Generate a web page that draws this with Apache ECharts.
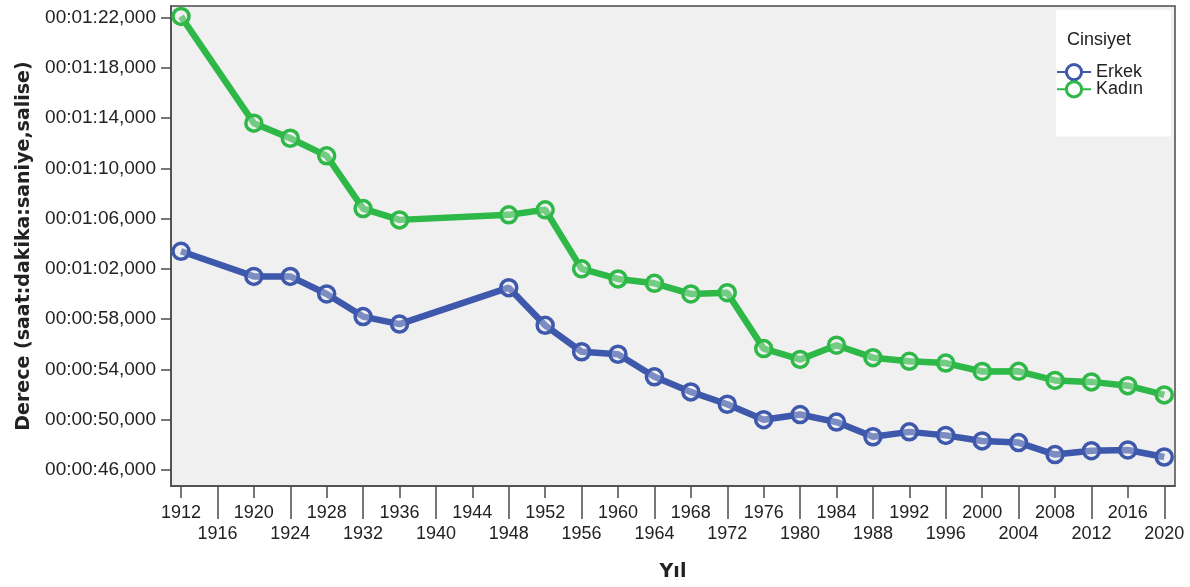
<!DOCTYPE html>
<html>
<head>
<meta charset="utf-8">
<script src="https://cdn.jsdelivr.net/npm/echarts@6/dist/echarts.min.js"></script>
<style>
html,body{margin:0;padding:0;background:#fff;}
#chart{width:1190px;height:587px;}
</style>
</head>
<body>
<div id="chart"></div>
<script>
// ---- data ----
const years = [1912,1920,1924,1928,1932,1936,1948,1952,1956,1960,1964,1968,1972,1976,1980,1984,1988,1992,1996,2000,2004,2008,2012,2016,2020];
const erkek = [63.4,61.4,61.4,60.0,58.2,57.6,60.5,57.5,55.4,55.2,53.4,52.2,51.22,49.99,50.40,49.80,48.63,49.02,48.74,48.30,48.17,47.21,47.52,47.58,47.02];
const kadin = [82.1,73.6,72.4,71.0,66.8,65.9,66.3,66.7,62.0,61.2,60.85,60.0,60.1,55.65,54.79,55.92,54.93,54.64,54.50,53.83,53.84,53.12,53.00,52.70,51.96];
const xTicksRow1 = [1912,1920,1928,1936,1944,1952,1960,1968,1976,1984,1992,2000,2008,2016];
const xTicksRow2 = [1916,1924,1932,1940,1948,1956,1964,1972,1980,1988,1996,2004,2012,2020];
const yTicks = [46,50,54,58,62,66,70,74,78,82];
const seriesNames = ['Erkek','Kadın'];
const legendTitle = 'Cinsiyet';
const xTitle = 'Yıl';
const yTitle = 'Derece (saat:dakika:saniye,salise)';

const colors = ['#3E58AC','#2EB848'];
const font = 'Liberation Sans, Arial, sans-serif';
const boldFont = 'DejaVu Sans, sans-serif';
const textColor = '#222';
const frameColor = '#4a4a4a';

function fmtTime(v){
  const total = Math.round(v);
  const m = Math.floor(total/60), s = total%60;
  const p = n => (n<10?'0':'')+n;
  return '00:' + p(m) + ':' + p(s) + ',000';
}

const chart = echarts.init(document.getElementById('chart'), null, {renderer:'canvas'});

function mkSeries(name, vals, color){
  return {
    name: name,
    type: 'line',
    xAxisIndex: 0,
    data: years.map((y,i)=>[y, vals[i]]),
    symbol: 'circle',
    symbolSize: 16,
    lineStyle: {color: color, width: 6.5},
    itemStyle: {color: 'rgba(240,240,240,0.35)', borderColor: color, borderWidth: 3.5},
    emphasis: {disabled: true},
    animation: false
  };
}

const xBase = {
  type: 'value',
  min: 1910.9,
  max: 2021.18,
  position: 'bottom',
  splitLine: {show:false},
  axisLine: {show:true, lineStyle:{color: frameColor, width: 1.5}},
};

chart.setOption({
  animation: false,
  grid: {
    left: 171, top: 6, right: 15, bottom: 99,
    show: true, backgroundColor: '#f0f0f0', borderColor: frameColor, borderWidth: 1.5
  },
  title: {
    text: legendTitle, left: 1067, top: 31, z: 10, padding: 0,
    textStyle: {fontFamily: font, fontSize: 18, fontWeight: 'normal', color: textColor}
  },
  legend: {
    data: seriesNames,
    orient: 'vertical',
    left: 1056, top: 10,
    backgroundColor: '#ffffff',
    padding: [53, 28, 38, 0],
    itemGap: -1,
    itemWidth: 34, itemHeight: 19,
    lineStyle: {width: 2},
    itemStyle: {borderWidth: 3, color: '#ffffff'},
    textStyle: {fontFamily: font, fontSize: 18, color: textColor, lineHeight: 18}
  },
  xAxis: [
    Object.assign({}, xBase, {
      name: xTitle,
      nameLocation: 'middle',
      nameGap: 77,
      nameTextStyle: {fontFamily: boldFont, fontSize: 19, fontWeight: 'bold', color: textColor},
      axisTick: {show:true, length: 12, customValues: xTicksRow1, lineStyle:{color: frameColor, width: 1.5}},
      axisLabel: {show:true, margin: 18, customValues: xTicksRow1, fontFamily: font, fontSize: 18, color: textColor, formatter: v => String(v)}
    }),
    Object.assign({}, xBase, {
      axisLine: {show:false},
      axisTick: {show:true, length: 33, customValues: xTicksRow2, lineStyle:{color: frameColor, width: 1.5}},
      axisLabel: {show:true, margin: 39, customValues: xTicksRow2, fontFamily: font, fontSize: 18, color: textColor, formatter: v => String(v)}
    })
  ],
  yAxis: {
    type: 'value',
    min: 44.71,
    max: 82.93,
    splitLine: {show:false},
    axisLine: {show:true, lineStyle:{color: frameColor, width: 1.5}},
    axisTick: {show:true, length: 10, customValues: yTicks, lineStyle:{color: frameColor, width: 1.5}},
    axisLabel: {show:true, margin: 15, customValues: yTicks, fontFamily: font, fontSize: 19, color: textColor, formatter: fmtTime},
    name: yTitle,
    nameLocation: 'middle',
    nameRotate: 90,
    nameGap: 137,
    nameTextStyle: {fontFamily: boldFont, fontSize: 19, fontWeight: 'bold', color: textColor}
  },
  series: [
    mkSeries(seriesNames[0], erkek, colors[0]),
    mkSeries(seriesNames[1], kadin, colors[1])
  ]
});
</script>
</body>
</html>
